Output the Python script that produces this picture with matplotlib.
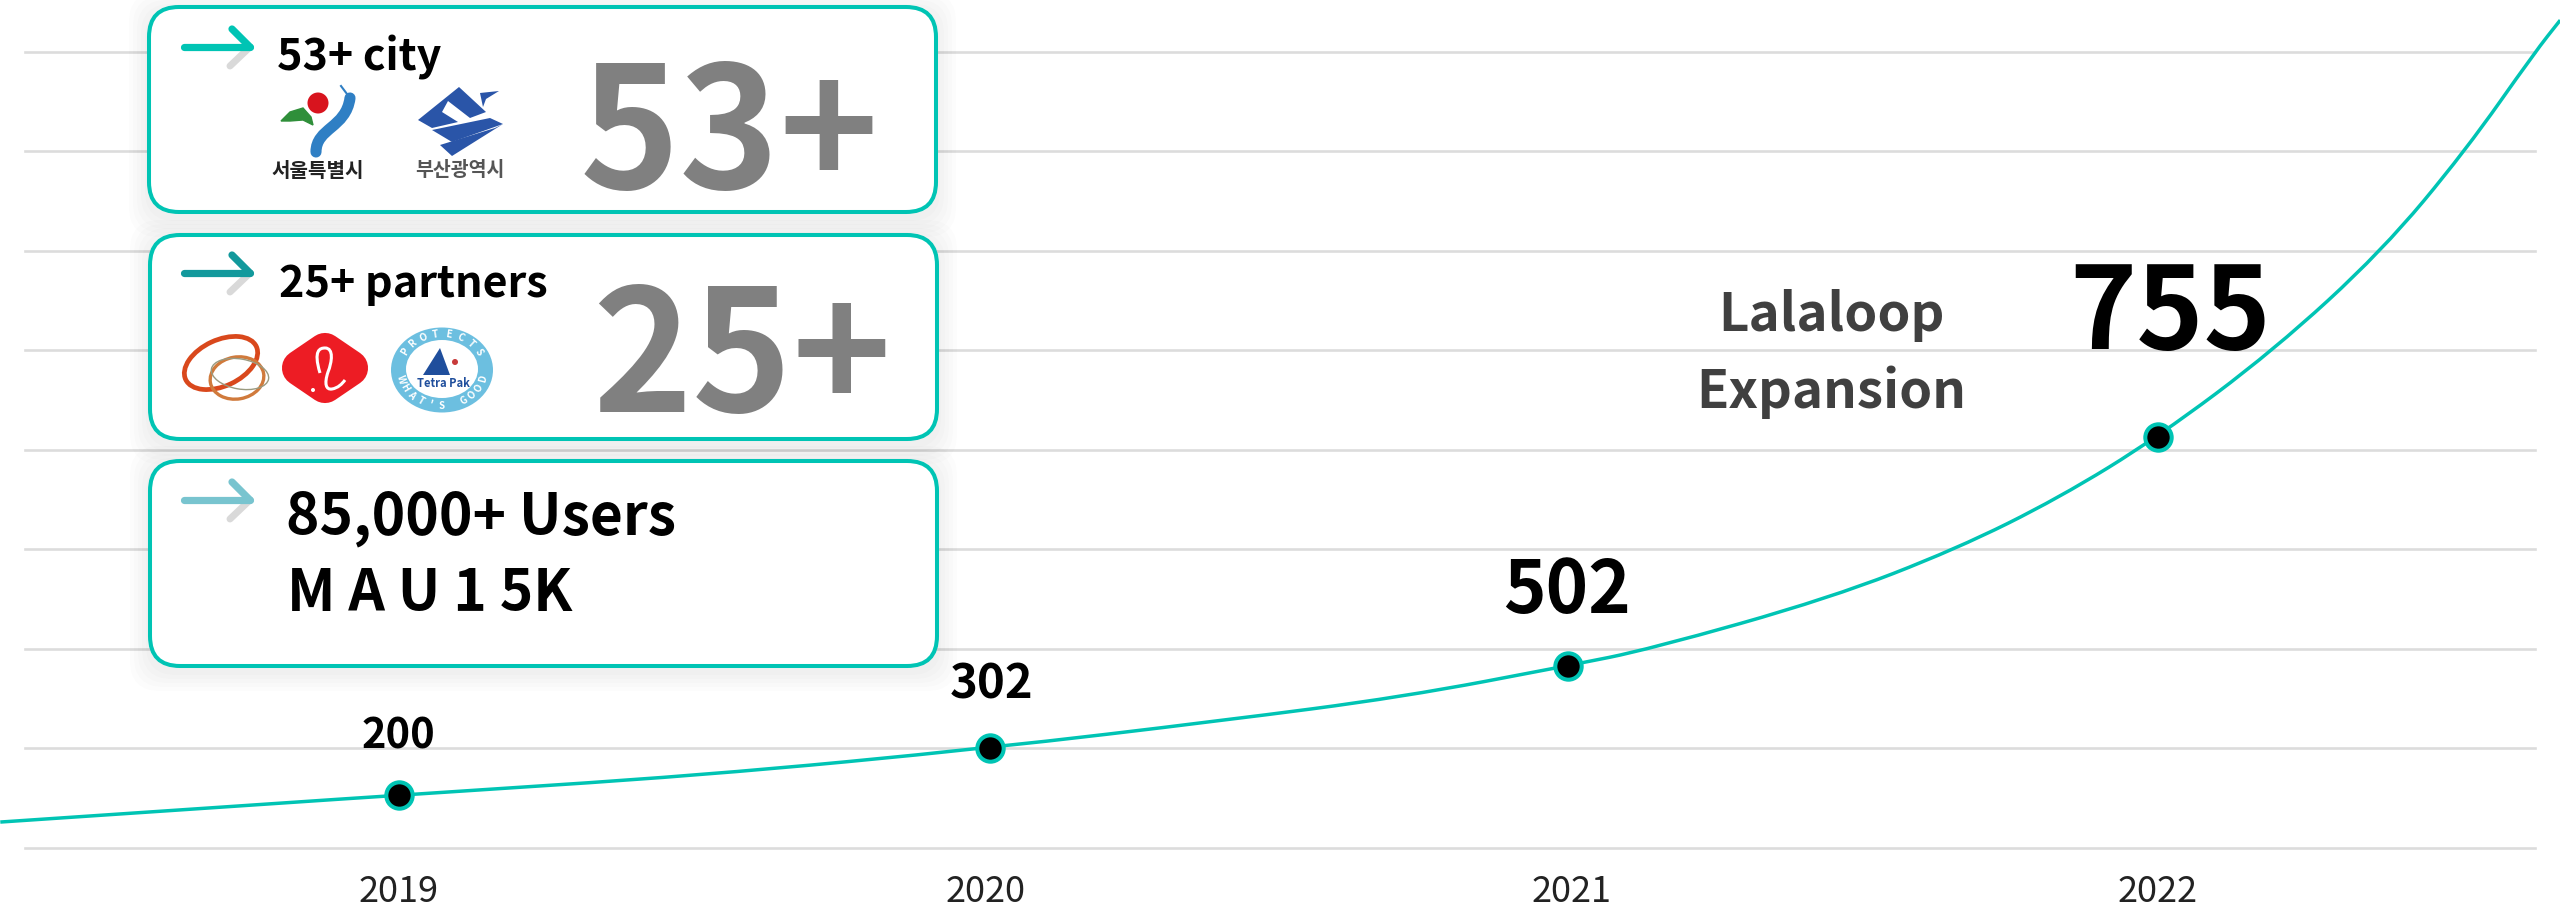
import matplotlib
matplotlib.use("Agg")
import matplotlib.pyplot as plt
from matplotlib.patches import FancyBboxPatch, Ellipse, Circle, Polygon, PathPatch
from matplotlib.path import Path
import numpy as np

# chart values (height is in gridline units, 100 per line)
years = [2019, 2020, 2021, 2022]
point_x = [2019.0, 2020.008, 2020.994, 2022.0]
point_height = [52.8, 100.0, 182.8, 412.8]
point_labels = ["200", "302", "502", "755"]

curve_x = [2018.32, 2019.0, 2019.517, 2020.008, 2020.405, 2020.711, 2020.994, 2021.134, 2021.441,
           2021.656, 2021.831, 2022.0, 2022.198, 2022.382, 2022.524, 2022.643, 2022.686]
curve_height = [25.6, 52.8, 72.4, 100.0, 127.7, 151.3, 182.8, 199.6, 250.9,
                300.2, 351.5, 412.8, 500.3, 599.9, 700.4, 800.0, 832.0]

card_titles = ["53+ city", "25+ partners", "85,000+ Users"]
card_numbers = ["53+", "25+"]
arrow_colors = ["#00c4b4", "#12999c", "#78c4cf"]
teal = "#00c4b4"

korean = ["Noto Sans CJK KR", "DejaVu Sans"]
plt.rcParams["font.family"] = korean

W, H = 2560, 915
fig = plt.figure(figsize=(W / 100, H / 100), dpi=100, facecolor="white")

# main chart axes, its box is the gridline area
left, right, top, bottom = 25, 2535, 52, 847.5
ax = fig.add_axes([left / W, (H - bottom) / H, (right - left) / W, (bottom - top) / H], zorder=1)
px_per_year = (2158 - 399) / 3
ax.set_xlim(2019 - (399 - left) / px_per_year, 2019 + (right - 399) / px_per_year)
ax.set_ylim(0, 800)
ax.set_yticks(np.arange(0, 801, 100))
ax.set_yticklabels([])
ax.set_xticks(years)
ax.set_xticklabels([str(y) for y in years], fontsize=26, color="#222222")
ax.tick_params(length=0, pad=19)
ax.grid(axis="y", color="#dcdcdc", linewidth=1.9, clip_on=False)
ax.set_axisbelow(True)
for s in ax.spines.values():
    s.set_visible(False)

# smooth the read points with quadratic segments
verts = [(curve_x[0], curve_height[0])]
codes = [Path.MOVETO]
for i in range(1, len(curve_x) - 1):
    verts.append((curve_x[i], curve_height[i]))
    verts.append(((curve_x[i] + curve_x[i + 1]) / 2, (curve_height[i] + curve_height[i + 1]) / 2))
    codes += [Path.CURVE3, Path.CURVE3]
verts.append((curve_x[-1], curve_height[-1]))
codes.append(Path.LINETO)
ax.add_patch(PathPatch(Path(verts, codes), fc="none", ec=teal, lw=2.5, clip_on=False, zorder=3))

ax.plot(point_x, point_height, "o", markersize=19, markerfacecolor="black",
        markeredgecolor=teal, markeredgewidth=2.9, clip_on=False, zorder=4)

label_sizes = [30, 34, 52, 82]
label_offsets = [(-1, 46), (2, 50), (-1, 53), (12, 88)]
for i in range(4):
    ax.annotate(point_labels[i], (point_x[i], point_height[i]), xytext=label_offsets[i],
                textcoords="offset pixels", ha="center", va="baseline",
                fontsize=label_sizes[i], fontweight="bold", color="black", zorder=5)

# overlay in pixel coordinates for cards and logos
ov = fig.add_axes([0, 0, 1, 1], zorder=2)
ov.set_xlim(0, W)
ov.set_ylim(H, 0)
ov.axis("off")
ov.patch.set_alpha(0)

cards = [(149, 7, 936, 212), (150, 235, 937, 439), (150, 461, 937, 666)]
for x0, y0, x1, y1 in cards:
    for pad in [20, 16, 12, 8, 4]:
        ov.add_patch(FancyBboxPatch((x0 - pad, y0 - pad + 5), x1 - x0 + 2 * pad, y1 - y0 + 2 * pad,
                                    boxstyle="round,pad=0,rounding_size=30", fc="black", ec="none",
                                    alpha=0.012, zorder=1))
    ov.add_patch(FancyBboxPatch((x0, y0), x1 - x0, y1 - y0, boxstyle="round,pad=0,rounding_size=30",
                                fc="white", ec=teal, lw=2.9, zorder=2))

# arrows
for c, y in zip(arrow_colors, [47, 273, 500]):
    ov.plot([230, 250], [y + 19, y], color="#d9d9d9", lw=5, solid_capstyle="round", zorder=3)
    ov.plot([184, 250], [y, y], color=c, lw=5.2, solid_capstyle="round", zorder=4)
    ov.plot([232, 250], [y - 18, y], color=c, lw=5.2, solid_capstyle="round", zorder=4)

ov.text(277, 70.5, card_titles[0], fontsize=31, fontweight="bold", va="baseline", zorder=5)
ov.text(279, 297.5, card_titles[1], fontsize=31, fontweight="bold", va="baseline", zorder=5)
ov.text(286, 534, card_titles[2], fontsize=41, fontweight="bold", va="baseline", zorder=5)
ov.text(287, 611, "M A U 1 5K", fontsize=41, fontweight="bold", va="baseline", zorder=5)
ov.text(580, 189, card_numbers[0], fontsize=122, fontweight="bold", color="#808080", va="baseline", zorder=5)
ov.text(592, 412.5, card_numbers[1], fontsize=122, fontweight="bold", color="#808080", va="baseline", zorder=5)
ov.text(1831, 331.5, "Lalaloop", fontsize=38, fontweight="bold", color="#404040", ha="center", va="baseline", zorder=5)
ov.text(1831, 408, "Expansion", fontsize=38, fontweight="bold", color="#404040", ha="center", va="baseline", zorder=5)

# Seoul logo
ov.add_patch(Circle((318, 103), 10.5, fc="#d8141e", ec="none", zorder=5))
ov.add_patch(Polygon([(281, 121), (290, 112), (303, 108), (311, 117), (313, 125), (303, 120), (290, 121)],
                     fc="#2f8f3a", ec="#2f8f3a", lw=1, zorder=5))
river = Path([(316, 152), (316, 128), (346, 128), (350, 98)], [Path.MOVETO, Path.CURVE4, Path.CURVE4, Path.CURVE4])
ov.add_patch(PathPatch(river, fc="none", ec="#2f7fc4", lw=8, capstyle="round", zorder=5))
ov.plot([350, 341], [98, 86], color="#2f7fc4", lw=1.5, zorder=5)
ov.text(318, 177, "서울특별시", fontsize=14.5, fontweight="bold", color="#222222",
        ha="center", va="baseline", zorder=5)

# Busan logo
blue = "#2a55a8"
ov.add_patch(Polygon([(418, 120), (459, 87), (486, 112), (470, 118), (448, 101), (442, 112), (458, 122), (432, 128)],
                     fc=blue, ec="none", zorder=5))
ov.add_patch(Polygon([(480, 93), (499, 91), (486, 99), (483, 107)], fc=blue, ec="none", zorder=5))
ov.add_patch(Polygon([(432, 130), (490, 118), (503, 124), (452, 142)], fc=blue, ec="none", zorder=5))
ov.add_patch(Polygon([(440, 145), (495, 128), (503, 124), (452, 156)], fc=blue, ec="none", zorder=5))
ov.text(460, 176, "부산광역시", fontsize=14, fontweight="bold", color="#555555",
        ha="center", va="baseline", zorder=5)

# first partner rings
ov.add_patch(Ellipse((221, 363), 78, 46, angle=-25, fc="none", ec="#d9481c", lw=3.4, zorder=5))
ov.add_patch(Ellipse((237, 378), 54, 42, angle=-10, fc="none", ec="#d07a3c", lw=2.4, zorder=5))
ov.add_patch(Ellipse((240, 374), 58, 30, angle=10, fc="none", ec="#9a9a80", lw=1, zorder=5))

# Lotte logo
ov.add_patch(Polygon([(325, 351), (350, 368), (325, 385), (300, 368)], fc="#ed1c24", ec="#ed1c24",
                     lw=26, joinstyle="round", zorder=5))
loop = Path([(320, 373), (313, 350), (320, 348), (325, 348), (334, 348), (332, 362), (328, 372),
             (324, 384), (326, 390), (332, 389), (338, 388), (342, 384), (345, 380)],
            [Path.MOVETO] + [Path.CURVE4] * 12)
ov.add_patch(PathPatch(loop, fc="none", ec="white", lw=2.2, zorder=6))
ov.add_patch(Circle((313, 390), 2, fc="white", ec="none", zorder=6))

# Tetra Pak badge
ov.add_patch(Ellipse((442, 370), 102, 85, fc="#6cbfe0", ec="none", zorder=5))
ov.add_patch(Ellipse((442, 369), 72, 58, fc="white", ec="none", zorder=6))
ov.add_patch(Polygon([(440, 348), (423, 375), (450, 375)], fc="#1f4e9c", ec="none", zorder=7))
ov.add_patch(Circle((455, 362), 3, fc="#c83a3a", ec="none", zorder=7))
ov.text(443, 387, "Tetra Pak", fontsize=8, fontweight="bold", color="#1f4e9c",
        ha="center", va="baseline", zorder=7)
ring_top = "PROTECTS"
ring_bottom = "WHAT'S GOOD"
for i, ch in enumerate(ring_top):
    a = np.deg2rad(-90 + (i - 3.5) * 17)
    ov.text(442 + 43 * np.cos(a), 370 + 36 * np.sin(a), ch, fontsize=7, fontweight="bold",
            color="white", rotation=-np.rad2deg(a) - 90, ha="center", va="center", zorder=7)
for i, ch in enumerate(ring_bottom):
    a = np.deg2rad(90 - (i - 5) * 15)
    ov.text(442 + 43 * np.cos(a), 370 + 36 * np.sin(a), ch, fontsize=7, fontweight="bold",
            color="white", rotation=90 - np.rad2deg(a), ha="center", va="center", zorder=7)

fig.savefig("out.png", dpi=100)
